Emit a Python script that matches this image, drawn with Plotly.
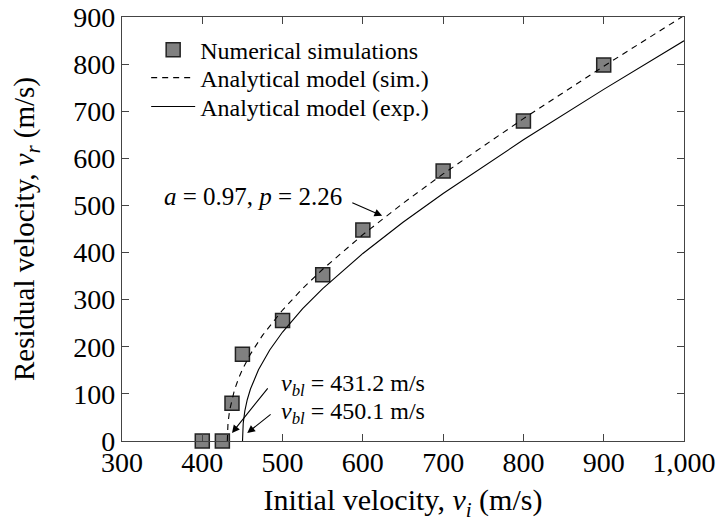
import plotly.graph_objects as go

# Numerical simulations
sim_vi = [400, 425, 437, 450, 500, 550, 600, 700, 800, 900]
sim_vr = [0, 0, 80, 184, 256, 353, 448, 573, 679, 798]

# Analytical model (sim.) curve
model_sim_vi = [431.2, 432, 434, 437, 440, 445, 450, 460, 475, 500, 525, 550, 600, 650, 700, 800, 900, 1000]
model_sim_vr = [0, 37.1, 64.7, 89.5, 107.8, 132.0, 151.8, 184.5, 224.2, 278.0, 323.7, 364.6, 438.0, 504.6, 567.0, 684.3, 795.5, 903.0]

# Analytical model (exp.) curve
model_exp_vi = [450.1, 451, 453, 456, 460, 470, 484, 500, 525, 550, 600, 650, 700, 800, 900, 1000]
model_exp_vr = [0, 38.0, 63.8, 87.6, 110.4, 151.3, 193.1, 231.3, 280.9, 323.6, 398.1, 464.2, 525.4, 639.3, 746.4, 849.5]

x_range = [300, 1000]
y_range = [0, 900]
tick_step = 100

FONT = "Liberation Serif"
AX = "#444444"

fig = go.Figure()
fig.add_trace(go.Scatter(
    x=sim_vi, y=sim_vr, mode="markers", name="Numerical simulations",
    marker=dict(symbol="square", size=14, color="#808080",
                line=dict(color="#222222", width=1.5)),
    cliponaxis=False, legend="legend"))
fig.add_trace(go.Scatter(
    x=model_sim_vi, y=model_sim_vr, mode="lines", name="Analytical model (sim.)",
    line=dict(color="black", width=1.1, dash="6px,5px"), legend="legend2"))
fig.add_trace(go.Scatter(
    x=model_exp_vi, y=model_exp_vr, mode="lines", name="Analytical model (exp.)",
    line=dict(color="black", width=1.1), legend="legend3"))

axis_common = dict(
    automargin=False, ticklabeloverflow="allow",
    tickmode="linear", dtick=tick_step,
    showline=True, linecolor=AX, linewidth=1.3, mirror="allticks",
    ticks="inside", ticklen=7, tickcolor="#444444", tickwidth=1.2,
    showgrid=False, zeroline=False,
    tickfont=dict(family=FONT, size=28, color="black"),
)

fig.update_xaxes(range=x_range, tick0=x_range[0], tickformat=",", ticklabelstandoff=-4,
                 title=dict(text="Initial velocity, <i>v<sub>i</sub></i> (m/s)",
                            font=dict(family=FONT, size=30, color="black"), standoff=12),
                 **axis_common)
fig.update_yaxes(range=y_range, tick0=y_range[0],
                 title=dict(text="Residual velocity, <i>v<sub>r</sub></i> (m/s)",
                            font=dict(family=FONT, size=29, color="black"), standoff=30),
                 **axis_common)

ann_font = dict(family=FONT, size=24, color="black")
annotations = [
    dict(x=577, y=518, xref="x", yref="y", text="<i>a</i> = 0.97, <i>p</i> = 2.26",
         showarrow=False, xanchor="right", yanchor="middle", font=dict(family=FONT, size=25, color="black")),
    dict(x=624, y=478, ax=585, ay=507, xref="x", yref="y", axref="x", ayref="y",
         text="", showarrow=True, arrowhead=2, arrowsize=1.4, arrowwidth=1.1, arrowcolor="black"),
    dict(x=495, y=119, xref="x", yref="y", text="<i>v<sub>bl</sub></i> = 431.2 m/s",
         showarrow=False, xanchor="left", yanchor="middle", font=ann_font),
    dict(x=437, y=17, ax=483, ay=115, xref="x", yref="y", axref="x", ayref="y",
         text="", showarrow=True, arrowhead=2, arrowsize=1.4, arrowwidth=1.1, arrowcolor="black"),
    dict(x=495, y=59, xref="x", yref="y", text="<i>v<sub>bl</sub></i> = 450.1 m/s",
         showarrow=False, xanchor="left", yanchor="middle", font=ann_font),
    dict(x=456, y=17, ax=487, ay=59, xref="x", yref="y", axref="x", ayref="y",
         text="", showarrow=True, arrowhead=2, arrowsize=1.4, arrowwidth=1.1, arrowcolor="black"),
]

leg_font = dict(family=FONT, size=24, color="black")
def leg(ypos):
    return dict(x=0.043, y=ypos, xanchor="left", yanchor="middle",
                bgcolor="rgba(255,255,255,0)", borderwidth=0,
                font=leg_font, itemwidth=44)

fig.update_layout(
    width=718, height=524,
    margin=dict(l=122, r=34, t=17, b=83),
    paper_bgcolor="white", plot_bgcolor="white",
    font=dict(family=FONT, size=24, color="black"),
    showlegend=True,
    legend=leg(0.922), legend2=leg(0.856), legend3=leg(0.788),
    annotations=annotations,
)

# remove the default page body margin so the figure starts at the window's top-left corner
fig.write_html("out.html", config={"displayModeBar": False},
               post_script="document.body.style.margin='0';")
